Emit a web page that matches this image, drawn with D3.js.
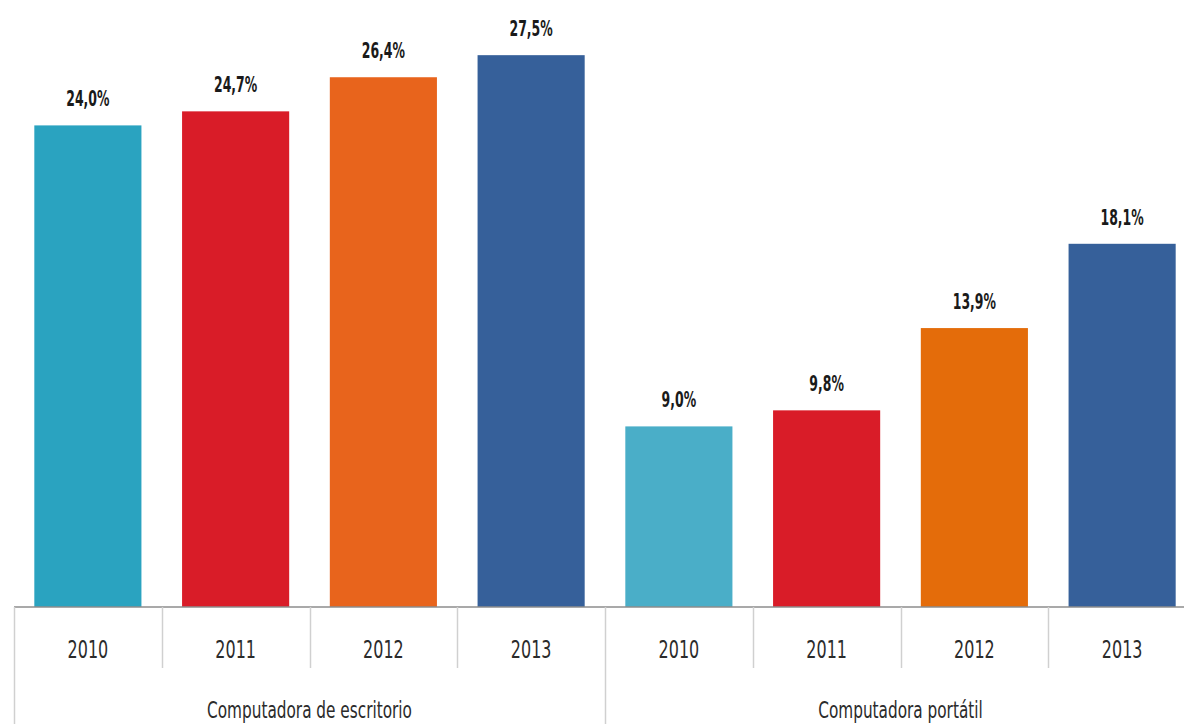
<!DOCTYPE html>
<html>
<head>
<meta charset="utf-8">
<script src="https://cdn.jsdelivr.net/npm/d3@7"></script>
<style>
  body { margin: 0; background: #fff; }
  svg { display: block; }
  text { font-family: "Liberation Sans Narrow", "DejaVu Sans Condensed", sans-serif; }
</style>
</head>
<body>
<svg width="1184" height="724"></svg>
<script>
// data
var groups = ['Computadora de escritorio', 'Computadora portátil'];
var years = ['2010', '2011', '2012', '2013'];
var desktop = [24.0, 24.7, 26.4, 27.5];
var laptop = [9.0, 9.8, 13.9, 18.1];
var colorsDesktop = ['#2aa3c0', '#d91c28', '#e8641c', '#36609a'];
var colorsLaptop = ['#4aaec8', '#d91c28', '#e46c0a', '#36609a'];

var rows = [];
years.forEach(function (y, i) { rows.push({ key: groups[0] + y, group: 0, year: y, value: desktop[i], color: colorsDesktop[i] }); });
years.forEach(function (y, i) { rows.push({ key: groups[1] + y, group: 1, year: y, value: laptop[i], color: colorsLaptop[i] }); });

var svg = d3.select('svg');
var base = 607;

var x = d3.scaleBand()
    .domain(rows.map(function (d) { return d.key; }))
    .range([14, 1196])
    .paddingInner(0.275)
    .paddingOuter(0.1375);

var y = d3.scaleLinear().domain([0, 30]).range([base, 5]);

var step = x.step();
function bandLeft(d) { return x(d.key) - step * x.paddingOuter(); }

// bars
svg.append('g').selectAll('rect')
    .data(rows).enter().append('rect')
    .attr('x', function (d) { return x(d.key); })
    .attr('y', function (d) { return y(d.value); })
    .attr('width', x.bandwidth())
    .attr('height', function (d) { return base - y(d.value); })
    .attr('fill', function (d) { return d.color; });

// value labels
svg.append('g').selectAll('text')
    .data(rows).enter().append('text')
    .attr('transform', function (d) {
        return 'translate(' + (x(d.key) + x.bandwidth() / 2) + ',' + (y(d.value) - 19) + ') scale(0.66,1)';
    })
    .attr('text-anchor', 'middle')
    .attr('font-size', 21)
    .attr('font-weight', 'bold')
    .attr('fill', '#1a1a1a')
    .text(function (d) { return d.value.toFixed(1).replace('.', ',') + '%'; });

// axis line
svg.append('line')
    .attr('x1', 14).attr('x2', 1196)
    .attr('y1', base).attr('y2', base)
    .attr('stroke', '#8c8c8c').attr('stroke-width', 1.5);

// dividers between categories
var div = svg.append('g').attr('stroke', '#d0d0d0').attr('stroke-width', 1.5);
rows.forEach(function (d, i) {
    var xx = Math.round(bandLeft(d)) + 0.5;
    var long = (i % 4 === 0);
    div.append('line')
        .attr('x1', xx).attr('x2', xx)
        .attr('y1', base).attr('y2', long ? 724 : 668);
});

// year labels
svg.append('g').selectAll('text')
    .data(rows).enter().append('text')
    .attr('transform', function (d) {
        return 'translate(' + (x(d.key) + x.bandwidth() / 2) + ',658) scale(0.74,1)';
    })
    .attr('text-anchor', 'middle')
    .attr('font-size', 24)
    .attr('fill', '#2b2b2b')
    .text(function (d) { return d.year; });

// group labels
svg.append('g').selectAll('text')
    .data(groups).enter().append('text')
    .attr('transform', function (g, i) {
        var first = rows[i * 4], last = rows[i * 4 + 3];
        var cx = (bandLeft(first) + bandLeft(last) + step) / 2;
        return 'translate(' + cx + ',718) scale(0.74,1)';
    })
    .attr('text-anchor', 'middle')
    .attr('font-size', 23)
    .attr('fill', '#2b2b2b')
    .text(function (g) { return g; });
</script>
</body>
</html>
